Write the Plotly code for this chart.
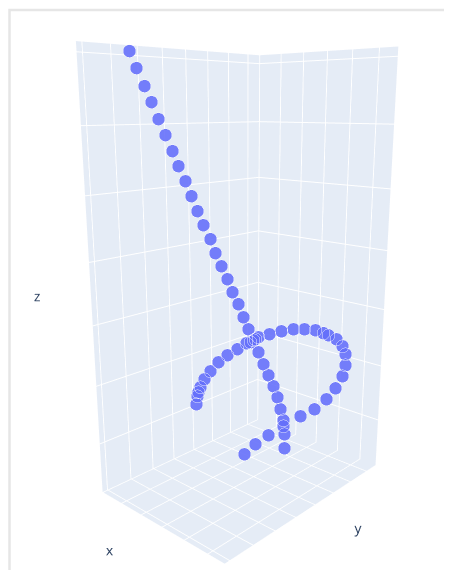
import plotly.graph_objects as go

x = [0.343, 0.481, 0.641, 0.783, 0.925, 1.071, 1.218, 1.344, 1.495, 1.624, 1.755, 1.888, 2.046, 2.158, 2.296,
     2.434, 2.551, 2.692, 2.811, 2.931, 3.052, 3.175, 3.298, 3.422, 3.548, 3.650, 3.728, 3.807, 3.838, 3.843,
     2.835, 3.112, 3.437, 3.809, 4.228, 4.572, 4.861, 5.074, 5.234, 5.297, 5.286, 5.206, 5.055, 4.858, 4.736,
     4.542, 4.277, 4.013, 3.725, 3.437, 3.173, 3.100, 2.980, 2.883, 2.665, 2.422, 2.202, 2.004, 1.855, 1.753,
     1.702, 1.675, 1.646]
y = [1.395, 1.522, 1.671, 1.802, 1.934, 2.068, 2.204, 2.321, 2.461, 2.580, 2.701, 2.824, 2.970, 3.074, 3.201,
     3.329, 3.437, 3.568, 3.678, 3.789, 3.901, 4.014, 4.128, 4.243, 4.360, 4.454, 4.526, 4.599, 4.627, 4.633,
     3.700, 3.956, 4.257, 4.601, 4.989, 5.306, 5.574, 5.771, 5.919, 5.977, 5.967, 5.893, 5.753, 5.572, 5.459,
     5.279, 5.034, 4.789, 4.523, 4.257, 4.012, 3.945, 3.834, 3.745, 3.543, 3.318, 3.114, 2.932, 2.793, 2.699,
     2.652, 2.627, 2.601]
z = [6.044, 5.809, 5.557, 5.330, 5.086, 4.854, 4.619, 4.396, 4.170, 3.943, 3.713, 3.495, 3.276, 3.054, 2.845,
     2.635, 2.423, 2.225, 2.008, 1.806, 1.619, 1.414, 1.206, 1.015, 0.821, 0.625, 0.410, 0.211, -0.045, -0.303,
     -0.415, -0.229, -0.063, 0.102, 0.284, 0.410, 0.590, 0.785, 0.997, 1.189, 1.380, 1.517, 1.637, 1.704, 1.739,
     1.789, 1.806, 1.806, 1.772, 1.722, 1.671, 1.637, 1.585, 1.568, 1.466, 1.362, 1.241, 1.084, 0.944, 0.803,
     0.714, 0.643, 0.500]

fig = go.Figure(go.Scatter3d(x=x, y=y, z=z, mode="markers",
    marker=dict(size=7.5, color="#636efa", opacity=0.88, line=dict(color="white", width=1))))
ax = dict(showticklabels=True, tickfont=dict(color="rgba(0,0,0,0)", size=5), dtick=1,
          backgroundcolor="#E5ECF6", gridcolor="white", showbackground=True, zeroline=False,
          ticks="", gridwidth=2, title_font=dict(size=22))
fig.update_layout(
    width=452, height=588, margin=dict(l=0, r=0, t=0, b=0), paper_bgcolor="white",
    font=dict(color="#2a3f5f"),
    shapes=[dict(type="rect", xref="paper", yref="paper", x0=1.5/452, x1=1.2, y0=-0.2, y1=1-2/588,
                 line=dict(color="#e6e6e6", width=2.5), fillcolor="rgba(0,0,0,0)")],
    scene=dict(
        domain=dict(x=[0.044, 1], y=[0, 1]),
        xaxis=dict(ax, title="x", range=[-0.03, 5.67]), yaxis=dict(ax, title="y", range=[-0.2, 7.6]),
        zaxis=dict(ax, title="z", range=[-0.87, 6.14]),
        aspectmode="manual", aspectratio=dict(x=0.84, y=1.147, z=2.095),
        camera=dict(eye=dict(x=2.214, y=-2.398, z=0.785), center=dict(x=0, y=0, z=-0.113)),
    ),
)
fig.write_html("out.html")
